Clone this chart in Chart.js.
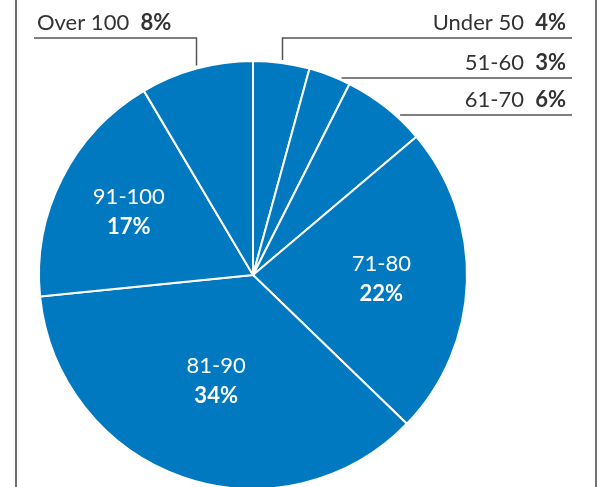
<!DOCTYPE html>
<html>
<head>
<meta charset="utf-8">
<script src="https://cdn.jsdelivr.net/npm/chart.js@4/dist/chart.umd.min.js"></script>
<style>
  html, body { margin: 0; padding: 0; background: #fff; }
  #wrap { width: 602px; height: 487px; }
</style>
</head>
<body>
<div id="wrap"><canvas id="pie" width="602" height="487"></canvas></div>
<script>
const categories = ['Under 50', '51-60', '61-70', '71-80', '81-90', '91-100', 'Over 100'];
const shares = [4, 3, 6, 22, 34, 17, 8];
const shareLabels = ['4%', '3%', '6%', '22%', '34%', '17%', '8%'];

const FONT = 'Lato, "Open Sans", sans-serif';
const BLUE = '#0079c1';
const SIZE = 22;

// labels inside the big slices: fraction of radius along the slice's mid angle
const insideLabels = { 3: 0.6, 4: 0.525, 5: 0.65 };
// callouts: line y, and whether a vertical drop to the slice is drawn
const callouts = {
  0: { y: 38, side: 'right', drop: true },
  1: { y: 78, side: 'right', drop: false },
  2: { y: 115, side: 'right', drop: false },
  6: { y: 38, side: 'left', drop: true }
};

function drawTwoPart(ctx, a, b, x, y, align) {
  ctx.font = SIZE + 'px ' + FONT;
  const wa = ctx.measureText(a + '  ').width;
  ctx.font = 'bold ' + SIZE + 'px ' + FONT;
  const wb = ctx.measureText(b).width;
  const x0 = align === 'right' ? x - wa - wb : x;
  ctx.textAlign = 'left';
  ctx.font = SIZE + 'px ' + FONT;
  ctx.fillText(a + '  ', x0, y);
  ctx.font = 'bold ' + SIZE + 'px ' + FONT;
  ctx.fillText(b, x0 + wa, y);
}

const labelPlugin = {
  id: 'pieLabels',
  afterDatasetsDraw(chart) {
    const ctx = chart.ctx;
    const arcs = chart.getDatasetMeta(0).data;
    ctx.save();

    // frame lines
    ctx.strokeStyle = '#444';
    ctx.lineWidth = 1.5;
    ctx.beginPath();
    ctx.moveTo(16, 0); ctx.lineTo(16, 487);
    ctx.moveTo(596, 0); ctx.lineTo(596, 487);
    ctx.stroke();

    // inside labels
    ctx.fillStyle = '#fff';
    ctx.textBaseline = 'middle';
    ctx.textAlign = 'center';
    Object.keys(insideLabels).forEach(k => {
      const i = +k;
      const arc = arcs[i];
      const mid = (arc.startAngle + arc.endAngle) / 2;
      const r = arc.outerRadius * insideLabels[k];
      const x = arc.x + r * Math.cos(mid);
      const y = arc.y + r * Math.sin(mid);
      ctx.font = SIZE + 'px ' + FONT;
      ctx.fillText(categories[i], x, y - 15);
      ctx.font = 'bold ' + SIZE + 'px ' + FONT;
      ctx.fillText(shareLabels[i], x, y + 15);
    });

    // callouts
    ctx.strokeStyle = '#555';
    ctx.lineWidth = 1.5;
    ctx.fillStyle = '#333';
    ctx.textBaseline = 'alphabetic';
    Object.keys(callouts).forEach(k => {
      const i = +k;
      const c = callouts[k];
      const arc = arcs[i];
      const R = arc.outerRadius;
      ctx.beginPath();
      if (c.drop) {
        const mid = (arc.startAngle + arc.endAngle) / 2;
        const px = arc.x + R * Math.cos(mid);
        const py = arc.y + R * Math.sin(mid);
        const vx = Math.round(px) + 0.5;
        if (c.side === 'right') {
          ctx.moveTo(572, c.y); ctx.lineTo(vx, c.y);
        } else {
          ctx.moveTo(34, c.y); ctx.lineTo(vx, c.y);
        }
        ctx.lineTo(vx, py - 3);
      } else {
        const dy = arc.y - c.y;
        const ex = arc.x + Math.sqrt(Math.max(R * R - dy * dy, 0)) + 5;
        ctx.moveTo(ex, c.y); ctx.lineTo(572, c.y);
      }
      ctx.stroke();
      if (c.side === 'right') drawTwoPart(ctx, categories[i], shareLabels[i], 566, c.y - 8, 'right');
      else drawTwoPart(ctx, categories[i], shareLabels[i], 37, c.y - 8, 'left');
    });
    ctx.restore();
  }
};

new Chart(document.getElementById('pie'), {
  type: 'pie',
  data: {
    labels: categories,
    datasets: [{
      data: shares,
      backgroundColor: BLUE,
      borderColor: '#fff',
      borderWidth: 2
    }]
  },
  options: {
    responsive: false,
    animation: false,
    radius: 214,
    layout: { padding: { left: 0, right: 96, top: 63, bottom: 0 } },
    plugins: { legend: { display: false }, tooltip: { enabled: false } }
  },
  plugins: [labelPlugin]
});
</script>
</body>
</html>
